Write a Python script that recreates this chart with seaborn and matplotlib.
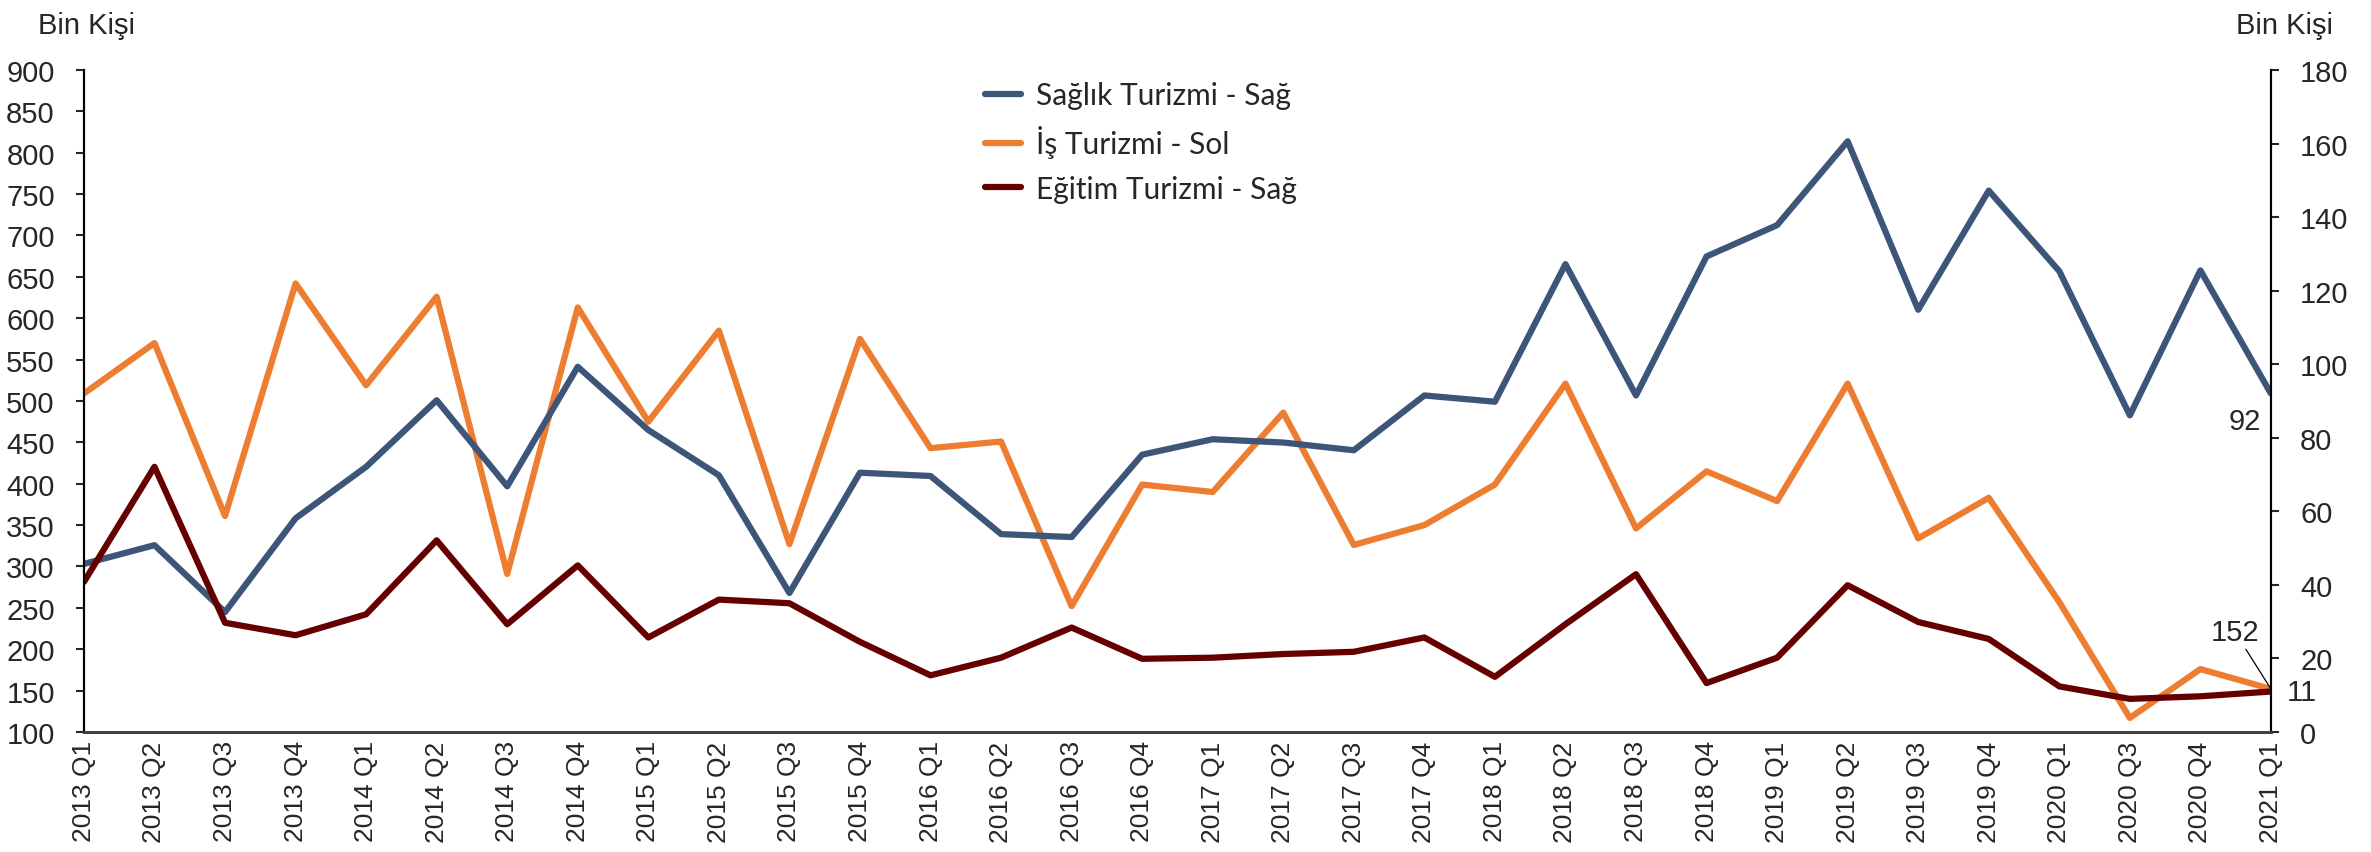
import numpy as np
import pandas as pd
import matplotlib
import matplotlib.pyplot as plt
import seaborn as sns

matplotlib.use('Agg')

quarters = ["2013 Q1", "2013 Q2", "2013 Q3", "2013 Q4",
            "2014 Q1", "2014 Q2", "2014 Q3", "2014 Q4",
            "2015 Q1", "2015 Q2", "2015 Q3", "2015 Q4",
            "2016 Q1", "2016 Q2", "2016 Q3", "2016 Q4",
            "2017 Q1", "2017 Q2", "2017 Q3", "2017 Q4",
            "2018 Q1", "2018 Q2", "2018 Q3", "2018 Q4",
            "2019 Q1", "2019 Q2", "2019 Q3", "2019 Q4",
            "2020 Q1", "2020 Q3", "2020 Q4", "2021 Q1"]

# right axis (bin kisi)
saglik = [45.7, 50.8, 32.6, 58.1, 72.1, 90.2, 66.8, 99.3,
          82.1, 69.8, 37.8, 70.5, 69.6, 53.8, 53.0, 75.4,
          79.6, 78.7, 76.6, 91.5, 89.8, 127.2, 91.5, 129.3,
          137.8, 160.6, 114.8, 147.2, 125.3, 86.1, 125.5, 92]
# left axis
is_turizmi = [509, 570, 361, 642, 519, 626, 291, 613,
              475, 585, 327, 575, 443, 451, 252, 399,
              390, 486, 326, 350, 399, 521, 346, 415,
              379, 521, 334, 383, 257, 117, 176, 152]
# right axis
egitim = [40.8, 72.1, 29.7, 26.3, 32.0, 52.1, 29.3, 45.3,
          25.7, 36.0, 35.0, 24.5, 15.4, 20.2, 28.4, 19.9,
          20.2, 21.2, 21.8, 25.7, 15.0, 29.3, 42.9, 13.3,
          20.2, 39.9, 29.9, 25.3, 12.4, 9.0, 9.7, 11]

labels = ["Sağlık Turizmi - Sağ", "İş Turizmi - Sol", "Eğitim Turizmi - Sağ"]
colors = ["#3C5578", "#ED7D31", "#660000"]

df = pd.DataFrame({"pos": np.arange(len(quarters)), "quarter": quarters,
                   "saglik": saglik, "is": is_turizmi, "egitim": egitim})

sns.set_style("white")
plt.rcParams['font.family'] = ['Liberation Sans Narrow', 'Liberation Sans', 'DejaVu Sans']

fig = plt.figure(figsize=(23.71, 8.53), dpi=100)
ax = fig.add_axes([0.0354, 0.1407, 0.9224, 0.7761])
ax2 = ax.twinx()

lw = 4.5
sns.lineplot(data=df, x="pos", y="is", ax=ax, color=colors[1], linewidth=lw)
sns.lineplot(data=df, x="pos", y="saglik", ax=ax2, color=colors[0], linewidth=lw)
sns.lineplot(data=df, x="pos", y="egitim", ax=ax2, color=colors[2], linewidth=lw)

ax.set_xlim(0, len(quarters) - 1)
ax.set_ylim(100, 900)
ax2.set_ylim(0, 180)
ax.set_yticks(np.arange(100, 901, 50))
ax2.set_yticks(np.arange(0, 181, 20))
ax.set_xticks(df["pos"])
ax.set_xticklabels(quarters, rotation=90, family='Liberation Sans', fontsize=19)
ax.set_xlabel("")
ax.set_ylabel("")
ax2.set_ylabel("")

ax.tick_params(axis='y', labelsize=21, length=6, width=1.5, pad=15, direction='out', left=True)
ax2.tick_params(axis='y', labelsize=21, length=6, width=1.5, pad=15, direction='out', right=True)
ax.tick_params(axis='x', length=0, pad=6)

for a in (ax, ax2):
    a.spines['top'].set_visible(False)
    a.spines['left'].set_color('black')
    a.spines['right'].set_color('black')
    a.spines['left'].set_linewidth(1.5)
    a.spines['right'].set_linewidth(1.5)
    a.spines['bottom'].set_color('#404040')
    a.spines['bottom'].set_linewidth(2)
    a.grid(False)

fig.text(0.016, 0.97, "Bin Kişi", fontsize=21, va='center', ha='left')
fig.text(0.943, 0.97, "Bin Kişi", fontsize=21, va='center', ha='left')

# end labels
n = len(quarters) - 1
ax2.annotate("92", xy=(n, saglik[-1]), xytext=(-26, -27), textcoords='offset pixels',
             ha='center', va='center', fontsize=21)
ax.annotate("152", xy=(n, is_turizmi[-1]), xytext=(-36, 57), textcoords='offset pixels',
            ha='center', va='center', fontsize=21,
            arrowprops=dict(arrowstyle='-', color='black', lw=0.9, shrinkA=0, shrinkB=0))
ax2.annotate("11", xy=(n, egitim[-1]), xytext=(31, 0), textcoords='offset pixels',
             ha='center', va='center', fontsize=21, annotation_clip=False)

handles = [plt.Line2D([], [], color=c, linewidth=lw, solid_capstyle='round') for c in colors]
ax2.legend(handles, labels, loc='upper left', bbox_to_anchor=(0.4154, 1 - 82 / 853),
           bbox_transform=fig.transFigure, frameon=False,
           prop={'family': 'Lato', 'size': 21.5}, handlelength=1.2, handletextpad=0.5,
           labelspacing=0.55, borderpad=0, borderaxespad=0)

fig.savefig("out.png", dpi=100)
